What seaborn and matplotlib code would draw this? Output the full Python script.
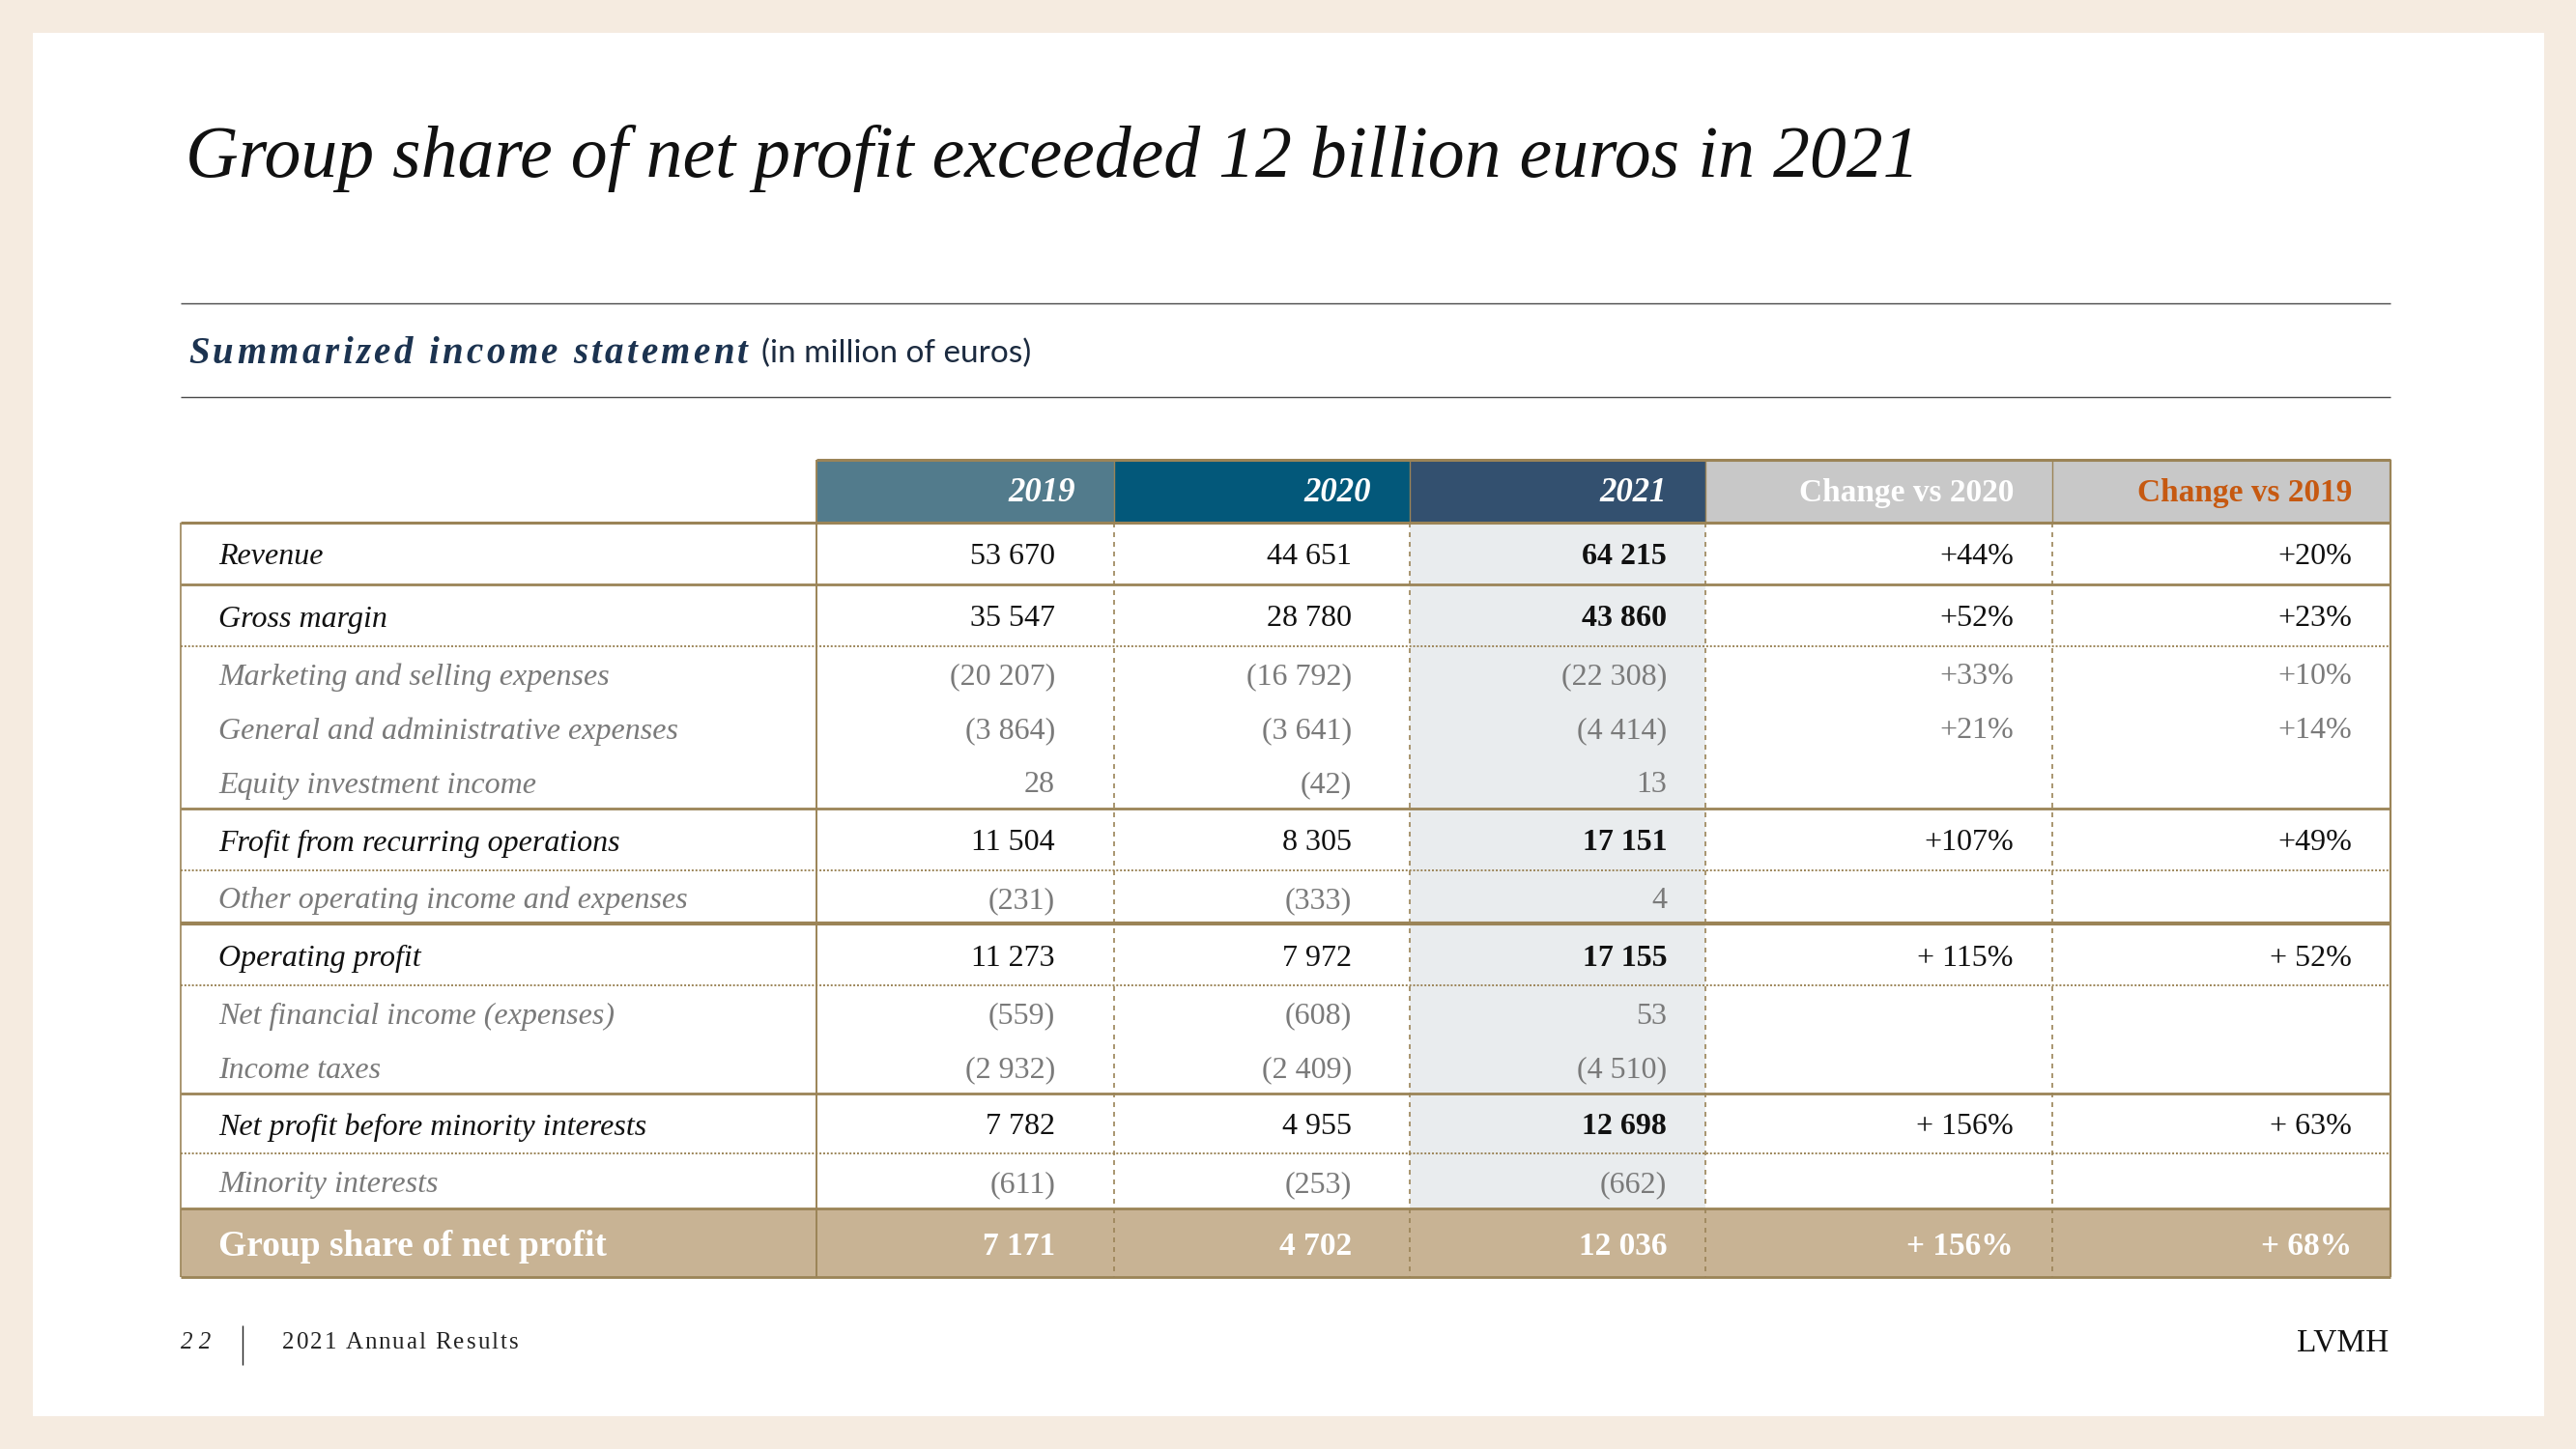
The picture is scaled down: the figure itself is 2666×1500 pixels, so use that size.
import numpy as np
import pandas as pd
import seaborn as sns
import matplotlib
matplotlib.use("Agg")
import matplotlib.pyplot as plt
from matplotlib.patches import Rectangle
from matplotlib.font_manager import FontProperties

sns.set_theme(style="white")
plt.rcParams['font.family'] = ['Liberation Serif', 'DejaVu Serif']

# ---------------- data ----------------
labels = ["Revenue", "Gross margin", "Marketing and selling expenses",
          "General and administrative expenses", "Equity investment income",
          "Frofit from recurring operations", "Other operating income and expenses",
          "Operating profit", "Net financial income (expenses)", "Income taxes",
          "Net profit before minority interests", "Minority interests",
          "Group share of net profit"]
kinds = ["main", "main", "sub", "sub", "sub", "main", "sub", "main", "sub", "sub",
         "main", "sub", "total"]
v2019 = ["53 670", "35 547", "(20 207)", "(3 864)", "28", "11 504", "(231)", "11 273",
         "(559)", "(2 932)", "7 782", "(611)", "7 171"]
v2020 = ["44 651", "28 780", "(16 792)", "(3 641)", "(42)", "8 305", "(333)", "7 972",
         "(608)", "(2 409)", "4 955", "(253)", "4 702"]
v2021 = ["64 215", "43 860", "(22 308)", "(4 414)", "13", "17 151", "4", "17 155",
         "53", "(4 510)", "12 698", "(662)", "12 036"]
chg2020 = ["+44%", "+52%", "+33%", "+21%", "", "+107%", "", "+ 115%", "", "",
           "+ 156%", "", "+ 156%"]
chg2019 = ["+20%", "+23%", "+10%", "+14%", "", "+49%", "", "+ 52%", "", "",
           "+ 63%", "", "+ 68%"]
headers = ["2019", "2020", "2021", "Change vs 2020", "Change vs 2019"]

title = "Group share of net profit exceeded 12 billion euros in 2021"
subtitle = "Summarized income statement"
subtitle_unit = "(in million of euros)"
footer_page = "2 2"
footer_text = "2021 Annual Results"
brand = "LVMH"

# ---------------- layout ----------------
W, H = 2666, 1500
BG = "#F5EBE0"
GOLD = "#9B8457"
hdr_fc = ["#527B8C", "#03587A", "#33506F", "#C8C8C8", "#C8C8C8"]
hdr_tc = ["white", "white", "white", "white", "#C65911"]
col_x = [187, 845, 1153, 1459, 1765, 2124, 2474]
hdr_top = 476
row_y = [541, 605, 669, 725, 781, 837, 901, 956, 1020, 1076, 1132, 1194, 1251, 1322]
# separator below each row: 's' solid, 'S' thick solid, 'd' dotted, '' none
sep = ["s", "d", "", "", "s", "d", "S", "d", "", "s", "d", "s", "s"]

fig = plt.figure(figsize=(W / 100, H / 100), dpi=100)
fig.patch.set_facecolor(BG)
ax = fig.add_axes([0, 0, 1, 1])
ax.set_xlim(0, W)
ax.set_ylim(H, 0)
ax.axis("off")
renderer = fig.canvas.get_renderer()


def text_width(s, **kw):
    fp = FontProperties(family=kw.get("family", plt.rcParams['font.family']),
                        style=kw.get("style", "normal"),
                        weight=kw.get("weight", "normal"),
                        size=kw.get("fontsize", 12))
    w1, _, _ = renderer.get_text_width_height_descent(s + "|", fp, ismath=False)
    w2, _, _ = renderer.get_text_width_height_descent("|", fp, ismath=False)
    return w1 - w2


def spaced_text(x, y, s, sp, **kw):
    for i, ch in enumerate(s):
        if ch == " ":
            continue
        xi = x + text_width(s[:i], **kw) + i * sp
        ax.text(xi, y, ch, ha="left", va="center", **kw)
    return x + text_width(s, **kw) + (len(s) - 1) * sp


# white card
ax.add_patch(Rectangle((34, 34), 2599, 1432, fc="white", ec="none", zorder=0))

# title
ax.text(192, 164, title, fontsize=54.5, style="italic", color="#111111",
        va="center", ha="left")

# subtitle block
ax.hlines([314, 411], 187, 2474, color="#4A4A4A", lw=1.0)
x_end = spaced_text(195, 366, subtitle, 3.4, fontsize=28, style="italic",
                    weight="bold", color="#1C3350")
ax.text(x_end + 14, 366, subtitle_unit, fontsize=24, family=["Lato", "DejaVu Sans"],
        color="#1C2B40", va="center", ha="left")

# backgrounds
ax.add_patch(Rectangle((col_x[3], row_y[0]), col_x[4] - col_x[3], row_y[-2] - row_y[0],
                       fc="#E9ECEE", ec="none", zorder=1))
ax.add_patch(Rectangle((col_x[0], row_y[-2]), col_x[-1] - col_x[0], row_y[-1] - row_y[-2],
                       fc="#C8B394", ec="none", zorder=1))
for j in range(5):
    ax.add_patch(Rectangle((col_x[j + 1], hdr_top), col_x[j + 2] - col_x[j + 1],
                           row_y[0] - hdr_top, fc=hdr_fc[j], ec="none", zorder=1))

# header texts
for j, h in enumerate(headers):
    xr = col_x[j + 2] - 40
    yc = (hdr_top + row_y[0]) / 2 + 2
    if j < 3:
        ax.text(xr, yc, h, fontsize=25, style="italic", weight="bold",
                color=hdr_tc[j], ha="right", va="center", zorder=5)
    else:
        ax.text(xr, yc, h, fontsize=24, weight="bold",
                color=hdr_tc[j], ha="right", va="center", zorder=5)

# grid lines
ax.hlines(hdr_top, col_x[1], col_x[-1], color=GOLD, lw=2.2, zorder=4)
ax.hlines(row_y[0], col_x[0], col_x[-1], color=GOLD, lw=2.2, zorder=4)
ax.vlines(col_x[2:6], hdr_top, row_y[0], color=GOLD, lw=1.0, zorder=4)
ax.vlines(col_x[0], row_y[0], row_y[-1], color=GOLD, lw=1.2, zorder=4)
ax.vlines(col_x[-1], hdr_top, row_y[-1], color=GOLD, lw=1.6, zorder=4)
ax.vlines(col_x[1], hdr_top, row_y[-1], color=GOLD, lw=1.4, zorder=4)
ax.vlines(col_x[2:6], row_y[0], row_y[-1], color=GOLD, lw=1.2,
          linestyles=(0, (3, 3)), zorder=4)
for i, s in enumerate(sep):
    y = row_y[i + 1]
    if s == "s":
        ax.hlines(y, col_x[0], col_x[-1], color=GOLD, lw=2.0, zorder=4)
    elif s == "S":
        ax.hlines(y, col_x[0], col_x[-1], color=GOLD, lw=3.0, zorder=4)
    elif s == "d":
        ax.hlines(y, col_x[0], col_x[-1], color=GOLD, lw=1.4,
                  linestyles=(0, (1, 1)), zorder=4)

# body texts
cols = [v2019, v2020, v2021, chg2020, chg2019]
pads = [61, 60, 40, 40, 40]
for i, lab in enumerate(labels):
    yc = (row_y[i] + row_y[i + 1]) / 2 + 4
    k = kinds[i]
    if k == "total":
        ax.text(226, yc, lab, fontsize=27, weight="bold", color="white", ha="left",
                va="center", zorder=5)
    else:
        ax.text(226, yc, lab, fontsize=23, style="italic",
                color="#111111" if k == "main" else "#7A7A7A",
                ha="left", va="center", zorder=5)
    for j, col in enumerate(cols):
        v = col[i]
        if not v:
            continue
        xr = col_x[j + 2] - pads[j]
        if k == "total":
            ax.text(xr, yc, v, fontsize=24, weight="bold", color="white", ha="right",
                    va="center", zorder=5)
        else:
            ax.text(xr, yc, v, fontsize=23,
                    color="#111111" if k == "main" else "#7A7A7A",
                    weight="bold" if (j == 2 and k == "main") else "normal",
                    ha="right", va="center", zorder=5)

# footer
ax.text(187, 1390, footer_page, fontsize=18, style="italic", color="#222222",
        ha="left", va="center")
ax.vlines(251, 1372, 1413, color="#222222", lw=1.0)
spaced_text(292, 1390, footer_text, 2.0, fontsize=18, color="#222222")
ax.text(2472, 1390, brand, fontsize=24, color="#111111", ha="right", va="center")

fig.savefig("out.png", dpi=100, facecolor=BG)
